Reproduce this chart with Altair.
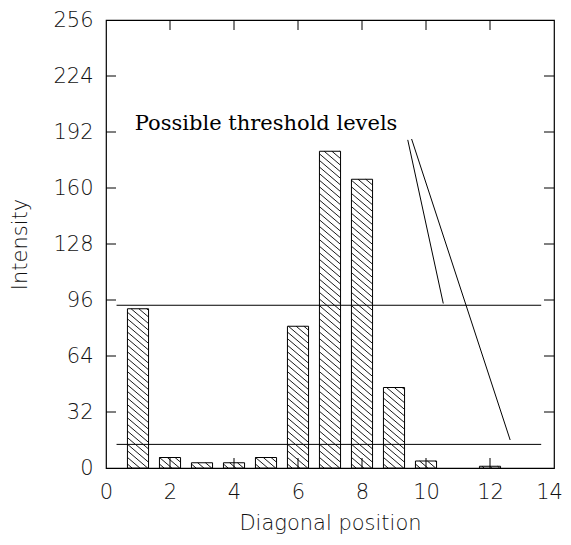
import altair as alt
import pandas as pd

# ---- data ----
positions = [1, 2, 3, 4, 5, 6, 7, 8, 9, 10, 12]
intensity = [91, 6, 3, 3, 6, 81, 181, 165, 46, 4, 1]

thresholds = [93, 13.5]
threshold_start = 0.33
threshold_end = 13.6

x_ticks = [0, 2, 4, 6, 8, 10, 12, 14]
y_ticks = [0, 32, 64, 96, 128, 160, 192, 224, 256]

note_text = "Possible threshold levels"
note_x = 0.9
note_y = 193
pointer_x1 = [9.43, 9.55]
pointer_y1 = [187.5, 188.0]
pointer_x2 = [10.54, 12.63]
pointer_y2 = [94.0, 16.0]

# ---- layout ----
W, H = 448, 448
XMAX, YMAX = 14, 256
HALF = 0.33  # half bar width in x units
px_x = W / XMAX
px_y = H / YMAX

bars = pd.DataFrame({"pos": positions, "val": intensity})
bars["x0"] = bars["pos"] - HALF
bars["x1"] = bars["pos"] + HALF
bars["y0"] = 0

# hatch segments derived from the bars (pixel-space diagonal "\" lines, clipped to each bar)
rows = []
spacing = 6.6
slope = 0.85
for p, v in zip(positions, intensity):
    w = 2 * HALF * px_x
    T = v * px_y
    xl = (p - HALF) * px_x
    c = spacing * 0.6
    while c < T + slope * w:
        u0 = max(0.0, (c - T) / slope)
        u1 = min(w, c / slope)
        if u1 - u0 > 0.5:
            rows.append({
                "hx0": (xl + u0) / px_x, "hy0": (c - slope * u0) / px_y,
                "hx1": (xl + u1) / px_x, "hy1": (c - slope * u1) / px_y,
            })
        c += spacing
hatch = pd.DataFrame(rows)

xs = alt.Scale(domain=[0, XMAX], nice=False, zero=False)
ys = alt.Scale(domain=[0, YMAX], nice=False, zero=False)

label_font = "DejaVu Sans"
text_color = "#111111"
weight = 300

x_axis = alt.Axis(values=x_ticks, grid=False, ticks=False, tickSize=0, domain=False,
                  labelFont=label_font, labelFontSize=21, labelColor=text_color,
                  labelFontWeight=weight,
                  labelOffset=alt.condition("datum.value == 14", alt.value(-5), alt.value(0)),
                  labelBaseline="alphabetic", labelPadding=30, labelFlush=False,
                  title="Diagonal position", titleFont=label_font, titleFontSize=21,
                  titleFontWeight=weight, titleColor=text_color,
                  titleBaseline="alphabetic", titleY=61, titleX=W / 2)
y_axis = alt.Axis(values=y_ticks, grid=False, ticks=False, tickSize=0, domain=False,
                  labelFont=label_font, labelFontSize=21, labelColor=text_color,
                  labelFontWeight=weight,
                  labelBaseline="middle", labelPadding=13, labelFlush=False,
                  title="Intensity", titleFont=label_font, titleFontSize=21,
                  titleFontWeight=weight, titleColor=text_color,
                  titleBaseline="alphabetic", titleX=-80, titleY=H / 2, titleAngle=270)

base_bars = alt.Chart(bars).mark_rect(fill="white", stroke="black", strokeWidth=1).encode(
    x=alt.X("x0:Q", scale=xs, axis=x_axis),
    x2="x1:Q",
    y=alt.Y("y0:Q", scale=ys, axis=y_axis),
    y2="val:Q",
)

hatch_layer = alt.Chart(hatch).mark_rule(color="black", strokeWidth=0.9).encode(
    x=alt.X("hx0:Q", scale=xs), y=alt.Y("hy0:Q", scale=ys),
    x2="hx1:Q", y2="hy1:Q",
)

thr = pd.DataFrame({"t": thresholds, "xa": threshold_start, "xb": threshold_end})
thr_layer = alt.Chart(thr).mark_rule(color="black", strokeWidth=1).encode(
    x=alt.X("xa:Q", scale=xs), x2="xb:Q", y=alt.Y("t:Q", scale=ys),
)

ptr = pd.DataFrame({"x1": pointer_x1, "y1": pointer_y1, "x2": pointer_x2, "y2": pointer_y2})
ptr_layer = alt.Chart(ptr).mark_rule(color="black", strokeWidth=1).encode(
    x=alt.X("x1:Q", scale=xs), y=alt.Y("y1:Q", scale=ys), x2="x2:Q", y2="y2:Q",
)

note = pd.DataFrame({"x": [note_x], "y": [note_y], "label": [note_text]})
note_layer = alt.Chart(note).mark_text(
    align="left", baseline="alphabetic", font="DejaVu Serif", fontSize=21, color="black"
).encode(x=alt.X("x:Q", scale=xs), y=alt.Y("y:Q", scale=ys), text="label:N")

inner_x = [t for t in x_ticks if 0 < t < XMAX]
inner_y = [t for t in y_ticks if 0 < t < YMAX]
xt = pd.DataFrame({"t": inner_x})
yt = pd.DataFrame({"t": inner_y})
TL = 10
tick_bottom = alt.Chart(xt).mark_rule(color="black").encode(
    x=alt.X("t:Q", scale=xs), y=alt.value(H), y2=alt.value(H - TL))
tick_top = alt.Chart(xt).mark_rule(color="black").encode(
    x=alt.X("t:Q", scale=xs), y=alt.value(0), y2=alt.value(TL))
tick_left = alt.Chart(yt).mark_rule(color="black").encode(
    y=alt.Y("t:Q", scale=ys), x=alt.value(0), x2=alt.value(TL))
tick_right = alt.Chart(yt).mark_rule(color="black").encode(
    y=alt.Y("t:Q", scale=ys), x=alt.value(W), x2=alt.value(W - TL))

chart = alt.layer(
    base_bars, hatch_layer, thr_layer, ptr_layer, note_layer,
    tick_bottom, tick_top, tick_left, tick_right,
).properties(
    width=W, height=H,
    autosize=alt.AutoSizeParams(type="none"),
    padding={"left": 98, "top": 12, "right": 9, "bottom": 69},
    background="white",
).configure_view(stroke="black", strokeWidth=1.2)

chart.save("out.html", embed_options={"renderer": "svg", "actions": False})
